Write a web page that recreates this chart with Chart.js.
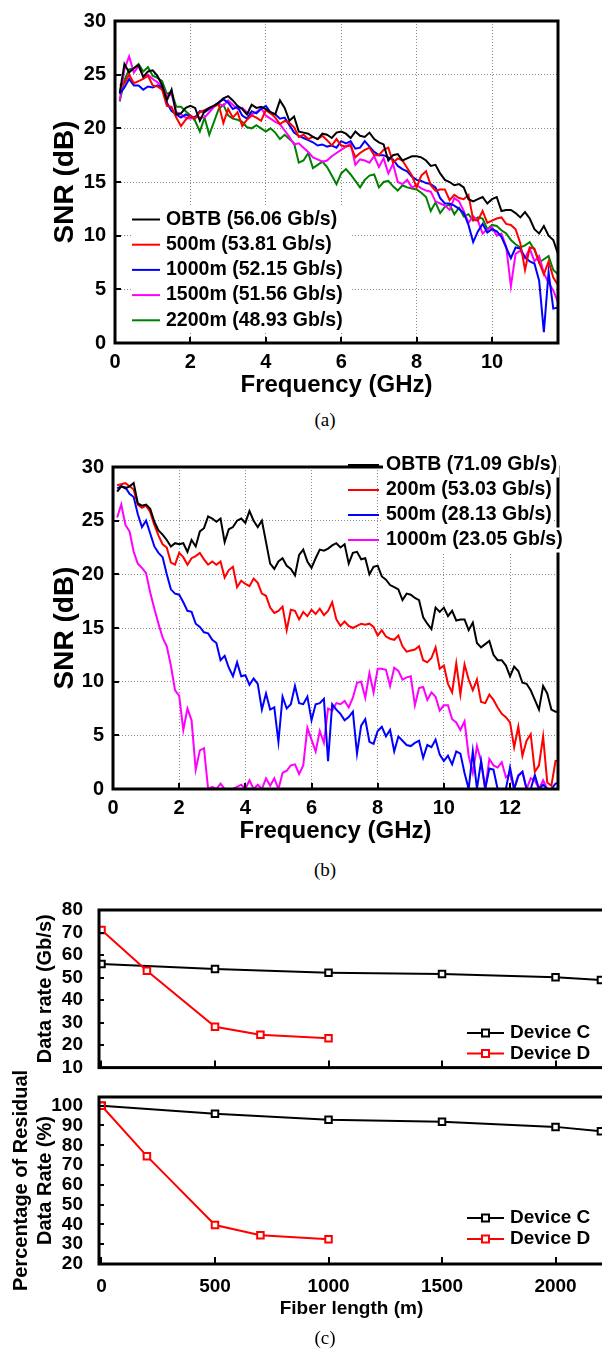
<!DOCTYPE html>
<html lang="en">
<head>
<meta charset="UTF-8">
<meta name="viewport" content="width=device-width, initial-scale=1.0">
<title>SNR spectra and data rate versus fiber length</title>
<script src="https://cdn.jsdelivr.net/npm/chart.js"></script>
<style>
  html, body { margin: 0; padding: 0; background: #fff; }
  body { position: relative; width: 602px; height: 1353px; overflow: hidden; }
  canvas { position: absolute; left: 0; }
  #snrA { top: 0; }
  #snrB { top: 446px; }
  #rateChart { top: 880px; }
  #residChart { top: 1055px; }
  .caption { position: absolute; left: 285px; width: 80px; text-align: center;
             font: 19px 'Liberation Serif', 'Times New Roman', serif; line-height: 20px; }
</style>
</head>
<body>

<canvas id="snrA" width="602" height="400"></canvas>
<div class="caption" style="top:410px">(a)</div>

<canvas id="snrB" width="602" height="400"></canvas>
<div class="caption" style="top:860px">(b)</div>

<canvas id="rateChart" width="640" height="207"></canvas>
<canvas id="residChart" width="640" height="275"></canvas>
<div class="caption" style="top:1328px">(c)</div>

<script>
const SANS = "'Liberation Sans', Arial, Helvetica, sans-serif";

// ---- (a) SNR spectra, device C ----
const freqA = [
  0.125, 0.25, 0.375, 0.5, 0.625, 0.75, 0.875, 1,
  1.125, 1.25, 1.375, 1.5, 1.625, 1.75, 1.875, 2,
  2.125, 2.25, 2.375, 2.5, 2.625, 2.75, 2.875, 3,
  3.125, 3.25, 3.375, 3.5, 3.625, 3.75, 3.875, 4,
  4.125, 4.25, 4.375, 4.5, 4.625, 4.75, 4.875, 5,
  5.125, 5.25, 5.375, 5.5, 5.625, 5.75, 5.875, 6,
  6.125, 6.25, 6.375, 6.5, 6.625, 6.75, 6.875, 7,
  7.125, 7.25, 7.375, 7.5, 7.625, 7.75, 7.875, 8,
  8.125, 8.25, 8.375, 8.5, 8.625, 8.75, 8.875, 9,
  9.125, 9.25, 9.375, 9.5, 9.625, 9.75, 9.875, 10,
  10.125, 10.25, 10.375, 10.5, 10.625, 10.75, 10.875, 11,
  11.125, 11.25, 11.375, 11.5, 11.625, 11.75
];
const snrObtbA = [
  23.3, 26.0, 25.2, 25.6, 25.9, 24.8, 25.3, 25.4,
  24.9, 24.0, 22.6, 23.6, 21.3, 21.4, 21.9, 22.1,
  21.9, 20.7, 21.6, 21.9, 22.1, 22.4, 22.8, 23.0,
  22.6, 22.1, 21.8, 21.3, 22.2, 21.9, 22.0, 21.8,
  21.5, 21.3, 22.6, 21.9, 20.7, 21.1, 19.7, 19.6,
  19.5, 19.2, 19.0, 19.5, 19.4, 19.1, 19.6, 19.7,
  19.5, 19.1, 19.7, 19.3, 19.2, 19.6, 19.0, 18.7,
  18.5, 17.0, 17.5, 17.6, 17.0, 17.2, 17.4, 17.4,
  17.3, 17.0, 16.5, 16.6, 15.8, 15.2, 15.0, 14.7,
  14.8, 14.5, 13.4, 13.2, 13.4, 13.6, 13.0, 13.4,
  13.6, 12.3, 12.4, 12.4, 12.1, 11.7, 12.2, 11.6,
  10.6, 10.2, 10.9, 10.0, 9.6, 8.3
];
const snr500A = [
  24.0, 24.2, 25.0, 24.2, 24.4, 24.6, 24.9, 24.0,
  23.9, 23.6, 22.1, 22.0, 21.0, 20.2, 20.8, 21.2,
  20.9, 21.5, 21.7, 21.9, 22.1, 22.2, 20.5, 21.8,
  21.0, 21.5, 20.2, 20.8, 21.2, 21.0, 20.7, 21.7,
  21.4, 21.0, 20.4, 20.7, 20.5, 20.1, 19.2, 19.4,
  19.0, 19.2, 19.0, 19.3, 18.9, 18.4, 19.0, 18.4,
  18.3, 18.4, 17.3, 17.7, 18.0, 18.2, 17.5, 17.5,
  18.0, 18.2, 16.8, 17.2, 17.0, 16.3, 15.6, 14.5,
  15.6, 16.0, 14.7, 14.2, 14.3, 14.3, 13.3, 13.8,
  13.5, 13.4, 13.8, 11.5, 11.4, 12.3, 11.2, 11.4,
  11.6, 11.7, 11.1, 11.0, 10.6, 9.3, 6.8, 8.9,
  8.8, 7.5, 6.4, 7.6, 6.1, 5.4
];
const snr1000A = [
  23.2, 23.8, 24.6, 24.0, 24.0, 23.6, 23.9, 23.8,
  24.0, 23.8, 22.4, 21.6, 21.3, 21.0, 21.3, 21.1,
  21.0, 21.6, 21.5, 21.8, 22.1, 22.4, 22.7, 22.4,
  21.8, 22.0, 21.2, 20.9, 21.6, 21.4, 21.8, 22.1,
  21.5, 21.3, 20.9, 21.0, 20.3, 19.6, 19.3, 19.1,
  18.9, 18.7, 18.4, 18.5, 18.3, 18.4, 18.2, 18.8,
  18.6, 18.8, 18.1, 18.2, 18.8, 18.3, 17.8, 17.5,
  17.5, 17.3, 17.1, 16.5, 16.2, 16.0, 15.5, 15.2,
  15.1, 14.9, 14.8, 14.5, 13.5, 13.0, 13.0, 12.8,
  12.5, 12.1, 11.0, 9.4, 10.4, 11.1, 10.3, 10.6,
  10.4, 9.9, 8.9, 7.9, 8.9, 8.8, 8.0, 7.6,
  7.4, 5.8, 1.0, 6.6, 3.2, 3.3
];
const snr1500A = [
  22.6, 25.5, 26.7, 25.2, 25.8, 24.8, 25.0, 24.6,
  24.3, 23.9, 23.0, 23.2, 21.5, 21.3, 21.0, 20.9,
  21.1, 21.0, 21.0, 21.5, 22.0, 22.3, 22.1, 22.6,
  22.2, 21.8, 21.9, 21.5, 21.3, 21.5, 21.9, 21.2,
  20.9, 20.6, 20.4, 19.8, 19.2, 18.5, 18.6, 18.2,
  17.8, 17.3, 17.1, 16.9, 17.0, 17.4, 17.7, 18.0,
  18.3, 18.6, 16.6, 17.1, 17.0, 16.8, 17.4, 16.4,
  17.2, 15.8, 16.7, 15.0, 14.8, 15.2, 14.5, 14.7,
  14.4, 14.2, 14.1, 13.2, 13.0, 12.8, 12.4, 13.5,
  13.2, 12.3, 11.2, 11.8, 11.4, 10.2, 10.6, 10.8,
  10.0, 10.2, 9.0, 5.3, 8.3, 8.6, 7.9, 8.8,
  7.6, 8.1, 6.5, 5.6, 4.9, 3.8
];
const snr2200A = [
  22.5, 24.5, 25.5, 25.6, 26.0, 25.3, 25.7, 24.9,
  24.7, 24.4, 23.2, 23.4, 22.0, 22.0, 21.6, 21.2,
  20.7, 19.7, 21.0, 19.4, 20.6, 21.8, 22.2, 21.2,
  20.9, 20.8, 20.6, 20.1, 20.0, 20.3, 20.0, 19.7,
  20.0, 19.6, 19.0, 19.4, 19.0, 18.6, 16.8, 17.0,
  17.7, 16.3, 16.6, 16.9, 16.4, 15.6, 14.8, 15.8,
  16.2, 15.7, 15.1, 14.5, 15.2, 15.6, 15.7, 14.5,
  15.0, 15.1, 14.6, 14.2, 14.7, 14.5, 14.4, 14.3,
  14.0, 13.6, 12.3, 13.1, 12.1, 12.7, 12.9, 12.0,
  12.6, 11.8, 12.0, 11.4, 11.7, 11.6, 10.6, 11.0,
  10.9, 10.5, 10.2, 9.6, 9.2, 8.9, 9.1, 9.4,
  8.7, 7.5, 7.8, 8.1, 6.8, 6.4
];
const namesA = ['OBTB (56.06 Gb/s)', '500m (53.81 Gb/s)', '1000m (52.15 Gb/s)',
                '1500m (51.56 Gb/s)', '2200m (48.93 Gb/s)'];
const colorsA = ['#000000', '#ff0000', '#0000ff', '#ff00ff', '#008000'];
const freqTicksA = [0, 2, 4, 6, 8, 10];

// ---- (b) SNR spectra, device D ----
const freqB = [
  0.125, 0.25, 0.375, 0.5, 0.625, 0.75, 0.875, 1,
  1.125, 1.25, 1.375, 1.5, 1.625, 1.75, 1.875, 2,
  2.125, 2.25, 2.375, 2.5, 2.625, 2.75, 2.875, 3,
  3.125, 3.25, 3.375, 3.5, 3.625, 3.75, 3.875, 4,
  4.125, 4.25, 4.375, 4.5, 4.625, 4.75, 4.875, 5,
  5.125, 5.25, 5.375, 5.5, 5.625, 5.75, 5.875, 6,
  6.125, 6.25, 6.375, 6.5, 6.625, 6.75, 6.875, 7,
  7.125, 7.25, 7.375, 7.5, 7.625, 7.75, 7.875, 8,
  8.125, 8.25, 8.375, 8.5, 8.625, 8.75, 8.875, 9,
  9.125, 9.25, 9.375, 9.5, 9.625, 9.75, 9.875, 10,
  10.125, 10.25, 10.375, 10.5, 10.625, 10.75, 10.875, 11,
  11.125, 11.25, 11.375, 11.5, 11.625, 11.75, 11.875, 12,
  12.125, 12.25, 12.375, 12.5, 12.625, 12.75, 12.875, 13,
  13.125, 13.25, 13.375, 13.5
];
const snrObtbB = [
  27.7, 28.2, 28.0, 28.2, 28.5, 26.6, 26.4, 26.5,
  26.1, 24.9, 24.1, 23.7, 23.2, 22.6, 22.9, 22.8,
  22.9, 22.1, 23.2, 22.6, 24.0, 24.3, 25.4, 25.2,
  24.9, 25.2, 23.0, 24.2, 24.4, 25.0, 25.2, 24.8,
  25.9, 25.0, 24.4, 25.0, 23.0, 21.0, 20.5, 21.2,
  21.5, 20.8, 20.5, 19.9, 21.8, 22.3, 21.2, 20.6,
  21.5, 22.3, 22.2, 22.4, 22.7, 22.9, 22.5, 22.8,
  21.0, 22.0, 22.1, 21.4, 21.5, 20.0, 20.7, 20.8,
  19.8, 19.5, 19.0, 18.8, 18.6, 17.6, 18.2, 18.1,
  17.8, 17.6, 16.0, 15.4, 14.9, 16.9, 16.5, 16.9,
  16.1, 16.6, 15.7, 15.8, 15.8, 14.8, 15.5, 13.6,
  13.2, 13.5, 13.8, 12.5, 12.0, 12.0, 11.5, 10.5,
  11.4, 11.0, 9.9, 9.8, 9.2, 8.3, 7.4, 9.6,
  8.9, 7.4, 7.2, 7.2
];
const snr200B = [
  28.3, 28.4, 28.5, 28.2, 27.9, 26.5, 26.2, 26.4,
  25.8, 24.6, 23.6, 22.8, 22.5, 21.1, 20.9, 22.0,
  21.6, 20.9, 21.5, 21.7, 22.0, 21.4, 20.9, 21.2,
  20.9, 21.2, 19.7, 20.4, 20.7, 18.8, 19.4, 19.1,
  18.9, 19.6, 19.2, 18.2, 18.0, 16.9, 16.4, 16.6,
  17.0, 14.8, 16.7, 16.6, 15.8, 16.5, 16.1, 16.7,
  16.3, 16.8, 16.2, 16.6, 17.4, 15.8, 15.2, 15.6,
  15.2, 15.0, 15.2, 15.4, 15.3, 15.4, 15.1, 14.3,
  14.8, 14.2, 14.0, 13.9, 14.3, 13.3, 12.8, 12.9,
  13.0, 13.3, 12.0, 11.8, 12.2, 13.2, 11.2, 11.5,
  9.8, 9.0, 11.7, 8.8, 11.6, 10.2, 9.2, 10.2,
  8.1, 8.0, 8.8, 8.3, 7.6, 7.0, 6.7, 6.2,
  3.9, 5.8, 3.1, 4.5, 5.1, 1.6, 2.2, 4.9,
  0.6, 0.3, 2.6, 2.6
];
const snr500B = [
  28.0, 28.2, 28.1, 27.5, 27.2, 25.6, 24.4, 25.0,
  23.8, 22.6, 22.0, 21.6, 20.0, 18.6, 18.2, 18.1,
  17.4, 16.6, 16.5, 15.4, 15.1, 14.6, 14.5, 13.9,
  13.6, 12.0, 12.4, 11.3, 10.5, 11.8, 10.5, 10.6,
  9.7, 10.3, 9.8, 7.4, 8.9, 7.4, 7.6, 4.4,
  8.6, 7.5, 7.9, 9.6, 8.0, 7.9, 8.6, 6.4,
  7.9, 8.0, 8.4, 2.6, 7.9, 7.4, 7.0, 6.4,
  6.7, 7.2, 3.3, 5.9, 6.5, 4.4, 4.2, 5.4,
  5.8, 4.9, 5.5, 3.5, 4.9, 4.5, 4.1, 4.0,
  4.3, 4.5, 2.9, 4.1, 3.9, 4.6, 3.2, 2.6,
  3.1, 2.3, 3.5, 3.3, 1.5, 0, 3.5, 0,
  2.6, 0, 1.9, 1.8, 0, 0, 0, 2.0,
  0, 1.2, 1.6, 0, 0, 1.3, 0, 0.4,
  0, 0, 0.5, 0.6
];
const snr1000B = [
  25.3, 26.5, 24.6, 24.0, 22.1, 21.0, 20.6, 20.1,
  18.3, 16.8, 15.4, 14.1, 13.3, 11.5, 9.2, 8.7,
  5.5, 7.5, 6.4, 1.8, 3.6, 3.8, 0, 0.2,
  0, 0.5, 0, 0, 0, 0.2, 0.4, 0,
  0.8, 0, 0.4, 0, 1.0, 0.3, 1.0, 0,
  1.5, 1.7, 2.2, 2.3, 1.4, 2.2, 5.7, 4.6,
  3.5, 5.4, 4.3, 7.5, 7.3, 8.0, 7.9, 8.2,
  7.6, 8.5, 9.9, 10.0, 8.5, 10.8, 9.0, 11.2,
  11.2, 11.1, 9.6, 11.3, 11.0, 10.2, 10.4, 10.5,
  7.8, 9.4, 9.5, 8.3, 9.0, 8.6, 7.3, 7.8,
  7.8, 6.5, 6.2, 5.5, 6.3, 3.1, 1.5, 4.0,
  2.6, 0, 2.8, 2.2, 2.0, 2.5, 1.1, 1.4,
  0, 1.3, 1.6, 0, 1.0, 0.8, 0, 0.8,
  0, 0, 0, 0
];
const namesB = ['OBTB (71.09 Gb/s)', '200m (53.03 Gb/s)', '500m (28.13 Gb/s)', '1000m (23.05 Gb/s)'];
const colorsB = ['#000000', '#ff0000', '#0000ff', '#ff00ff'];
const freqTicksB = [0, 2, 4, 6, 8, 10, 12];
const snrTicks = [0, 5, 10, 15, 20, 25, 30];

// ---- (c) data rate vs fiber length ----
const fiberC = [0, 500, 1000, 1500, 2000, 2200];
const fiberD = [0, 200, 500, 700, 1000];
const rateC = [56.06, 53.81, 52.15, 51.56, 50.1, 48.93];
const rateD = [71.09, 53.03, 28.13, 24.6, 23.05];
const residC = [100, 95.9, 92.9, 91.9, 89.3, 87.1];
const residD = [100, 74.5, 39.7, 34.5, 32.5];
const fiberTicks = [0, 500, 1000, 1500, 2000];
const rateTicks = [10, 20, 30, 40, 50, 60, 70, 80];
const residTicks = [20, 30, 40, 50, 60, 70, 80, 90, 100];
const namesC = ['Device C', 'Device D'];
const colorsC = ['#000000', '#ff0000'];

function fixedTicks(values) {
  return scale => { scale.ticks = values.map(v => ({ value: v })); };
}

// black box round the plot, with short inward tick marks on bottom and left
function frame(width, xTickLen, yTickLen) {
  return {
    id: 'frame',
    afterDraw(chart) {
      const { ctx, chartArea: a, scales: { x, y } } = chart;
      ctx.save();
      ctx.strokeStyle = '#000';
      ctx.lineWidth = 2;
      ctx.beginPath();
      x.ticks.forEach(t => {
        const px = Math.round(x.getPixelForValue(t.value));
        ctx.moveTo(px, a.bottom);
        ctx.lineTo(px, a.bottom - xTickLen);
      });
      y.ticks.forEach(t => {
        const py = Math.round(y.getPixelForValue(t.value));
        ctx.moveTo(a.left, py);
        ctx.lineTo(a.left + yTickLen, py);
      });
      ctx.stroke();
      ctx.lineWidth = width;
      ctx.strokeRect(a.left, a.top, a.right - a.left, a.bottom - a.top);
      ctx.restore();
    }
  };
}

function legendBox(o) {
  return {
    id: 'legendBox',
    afterDraw(chart) {
      const ctx = chart.ctx;
      ctx.save();
      ctx.font = o.font;
      ctx.textBaseline = 'middle';
      if (o.box) {
        ctx.fillStyle = '#fff';
        ctx.fillRect(o.box[0], o.box[1], o.box[2], o.box[3]);
      }
      o.names.forEach((name, i) => {
        const yy = o.top + i * o.gap;
        if (o.textBoxes) {
          ctx.fillStyle = '#fff';
          ctx.fillRect(o.textX - 3, yy - o.gap / 2, ctx.measureText(name).width + 5, o.gap);
        }
        ctx.strokeStyle = o.colors[i];
        ctx.lineWidth = 2;
        ctx.beginPath();
        ctx.moveTo(o.lineX[0], yy);
        ctx.lineTo(o.lineX[1], yy);
        ctx.stroke();
        if (o.marker) {
          const mx = (o.lineX[0] + o.lineX[1]) / 2;
          ctx.fillStyle = '#fff';
          ctx.fillRect(mx - 3.5, yy - 3.5, 7, 7);
          ctx.strokeRect(mx - 3.5, yy - 3.5, 7, 7);
        }
        ctx.fillStyle = '#000';
        ctx.fillText(name, o.textX, yy);
      });
      ctx.restore();
    }
  };
}

function snrChart(id, freq, series, colors, xMax, xTicks, yWidth, legend) {
  return new Chart(document.getElementById(id), {
    type: 'line',
    data: {
      labels: freq,
      datasets: series.map((d, i) => ({
        data: d, borderColor: colors[i], borderWidth: 2,
        pointRadius: 0, tension: 0, fill: false
      }))
    },
    options: {
      responsive: false, animation: false, devicePixelRatio: 1, events: [],
      layout: { padding: { top: 13, right: 44, bottom: 0, left: 0 } },
      plugins: { legend: { display: false }, tooltip: { enabled: false } },
      scales: {
        x: {
          type: 'linear', min: 0, max: xMax,
          afterBuildTicks: fixedTicks(xTicks),
          afterFit: s => { s.height = 57; },
          grid: { color: '#8a8a8a', lineWidth: 1, drawTicks: false },
          border: { display: false, dash: [1, 2] },
          ticks: { color: '#000', font: { family: SANS, size: 20, weight: 'bold' }, padding: 7,
                   maxRotation: 0, autoSkip: false, callback: v => String(v) },
          title: { display: true, text: 'Frequency (GHz)', color: '#000',
                   font: { family: SANS, size: 24, weight: 'bold', lineHeight: 1.2 },
                   padding: { top: 0, bottom: 0 } }
        },
        y: {
          min: 0, max: 30,
          afterBuildTicks: fixedTicks(snrTicks),
          afterFit: s => { s.width = yWidth; },
          grid: { color: '#8a8a8a', lineWidth: 1, drawTicks: false },
          border: { display: false, dash: [1, 2] },
          ticks: { color: '#000', font: { family: SANS, size: 20, weight: 'bold' }, padding: 9,
                   autoSkip: false, callback: v => String(v) },
          title: { display: true, text: 'SNR (dB)', color: '#000',
                   font: { family: SANS, size: 28, weight: 'bold', lineHeight: 1.2 },
                   padding: { top: 48, bottom: 0 } }
        }
      }
    },
    plugins: [frame(3, 6, 6), legendBox(legend)]
  });
}

function lengthChart(id, cData, dData, yMin, yMax, yTicks, yTitle, yTitleFont, yTitlePad, topPad, xHeight, xLabels, legend) {
  const scatter = (xs, ys) => xs.map((x, i) => ({ x: x, y: ys[i] }));
  return new Chart(document.getElementById(id), {
    type: 'line',
    data: {
      datasets: [
        { data: scatter(fiberC, cData), borderColor: colorsC[0], order: 1 },
        { data: scatter(fiberD, dData), borderColor: colorsC[1], order: 0 }
      ].map(d => Object.assign(d, {
        borderWidth: 2, tension: 0, fill: false, pointStyle: 'rect', pointRadius: 4.6,
        pointBorderWidth: 2, pointBorderColor: d.borderColor, pointBackgroundColor: '#fff'
      }))
    },
    options: {
      responsive: false, animation: false, devicePixelRatio: 1, events: [],
      layout: { padding: { top: topPad, right: 15, bottom: 0, left: 0 } },
      plugins: { legend: { display: false }, tooltip: { enabled: false } },
      scales: {
        x: {
          type: 'linear', min: -11, max: 2306,
          afterBuildTicks: fixedTicks(fiberTicks),
          afterFit: s => { s.height = xHeight; },
          grid: { display: false },
          border: { display: false },
          ticks: { display: xLabels, color: '#000', font: { family: SANS, size: 19, weight: 'bold' },
                   padding: 3, maxRotation: 0, autoSkip: false, callback: v => String(v) },
          // trailing spaces nudge the centred title left, as in the figure
          title: { display: xLabels, text: 'Fiber length (m)\u00a0\u00a0\u00a0\u00a0', color: '#000',
                   font: { family: SANS, size: 19, weight: 'bold', lineHeight: 1.2 },
                   padding: { top: 0, bottom: 10 } }
        },
        y: {
          min: yMin, max: yMax,
          afterBuildTicks: fixedTicks(yTicks),
          afterFit: s => { s.width = 99; },
          grid: { display: false },
          border: { display: false },
          ticks: { color: '#000', font: { family: SANS, size: 19, weight: 'bold' }, padding: 8,
                   autoSkip: false, callback: v => String(v) },
          title: { display: true, text: yTitle, color: '#000', font: yTitleFont,
                   padding: { top: yTitlePad, bottom: 0 } }
        }
      }
    },
    plugins: [frame(3, 7, 5), legendBox(legend)]
  });
}

snrChart('snrA', freqA, [snrObtbA, snr500A, snr1000A, snr1500A, snr2200A], colorsA,
  11.75, freqTicksA, 115, {
    font: "bold 19.5px " + SANS, names: namesA, colors: colorsA,
    top: 219.5, gap: 25.2, lineX: [132, 160], textX: 166, box: [131, 206, 220, 127]
  });

snrChart('snrB', freqB, [snrObtbB, snr200B, snr500B, snr1000B], colorsB,
  13.45, freqTicksB, 113, {
    font: "bold 19.5px " + SANS, names: namesB, colors: colorsB,
    top: 19, gap: 25, lineX: [348, 379], textX: 386, textBoxes: true
  });

lengthChart('rateChart', rateC, rateD, 10, 80, rateTicks, 'Data rate (Gb/s)',
  { family: SANS, size: 20, weight: 'bold', lineHeight: 1.2 }, 33, 30, 10, false, {
    font: "bold 19px " + SANS, names: namesC, colors: colorsC,
    top: 153, gap: 20.5, lineX: [467, 504], textX: 510, marker: true
  });

lengthChart('residChart', residC, residD, 20, 104.4, residTicks,
  ['Percentage of Residual', 'Data Rate (%)'],
  { family: SANS, size: 20, weight: 'bold', lineHeight: 1.2 }, 9, 42, 66, true, {
    font: "bold 19px " + SANS, names: namesC, colors: colorsC,
    top: 163, gap: 21, lineX: [467, 504], textX: 510, marker: true
  });
</script>
</body>
</html>
